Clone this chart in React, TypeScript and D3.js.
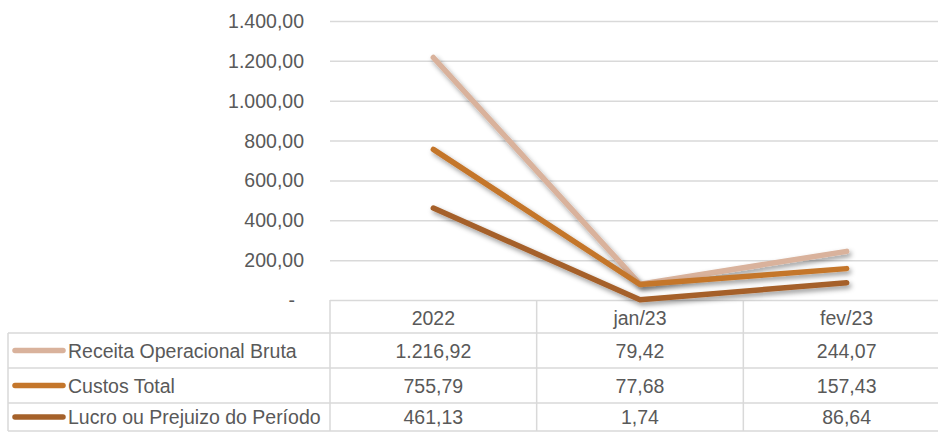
import React, { useEffect, useRef } from 'react';
import * as d3 from 'd3';

const categories = ['2022', 'jan/23', 'fev/23'];
const seriesNames = ['Receita Operacional Bruta', 'Custos Total', 'Lucro ou Prejuizo do Período'];
const receita = [1216.92, 79.42, 244.07];
const custos = [755.79, 77.68, 157.43];
const lucro = [461.13, 1.74, 86.64];
const seriesColors = ['#D9B29C', '#C4762B', '#A5612A'];
const yTicks = [0, 200, 400, 600, 800, 1000, 1200, 1400];

const fmt = (v: number) => {
	if (v === 0) return '-';
	const [i, d] = v.toFixed(2).split('.');
	return i.replace(/\B(?=(\d{3})+(?!\d))/g, '.') + ',' + d;
};

const App: React.FC = () => {
	const svgRef = useRef<SVGSVGElement | null>(null);

	useEffect(() => {
		if (svgRef.current == null) return;
		const width = 938;
		const height = 432;
		// the plot runs a little past the right edge, as in the original
		const plot = { left: 330, right: 950, top: 21, bottom: 300 };
		const tableLeft = 8;
		const rowLines = [333, 368, 403, 431];
		const font = 'Liberation Sans, Arial, sans-serif';
		const fontSize = 19.5;
		const grid = '#D9D9D9';
		const textColor = '#595959';
		const series = [receita, custos, lucro];

		const x = d3.scaleBand().domain(categories).range([plot.left, plot.right]);
		const y = d3.scaleLinear().domain([0, 1400]).range([plot.bottom, plot.top]);

		const svg = d3.select(svgRef.current);
		svg.selectAll('*').remove();
		svg.attr('width', width).attr('height', height);

		const defs = svg.append('defs');
		const f = defs.append('filter').attr('id', 'shadow')
			.attr('x', '-20%').attr('y', '-20%').attr('width', '140%').attr('height', '140%');
		f.append('feDropShadow').attr('dx', 2).attr('dy', 3).attr('stdDeviation', 2.5)
			.attr('flood-color', '#000').attr('flood-opacity', 0.4);

		// gridlines
		svg.append('g').selectAll('line').data(yTicks).join('line')
			.attr('x1', plot.left).attr('x2', plot.right)
			.attr('y1', d => y(d) + 0.5).attr('y2', d => y(d) + 0.5)
			.attr('stroke', grid).attr('stroke-width', 1.5);

		// y labels
		svg.append('g').selectAll('text').data(yTicks).join('text')
			.attr('x', d => d === 0 ? 295 : 304).attr('y', d => y(d) + 7)
			.attr('text-anchor', 'end')
			.attr('font-family', font).attr('font-size', fontSize).attr('fill', textColor)
			.text(d => fmt(d));

		// table lines
		const tg = svg.append('g').attr('stroke', grid).attr('stroke-width', 1.5);
		const colEdges = [plot.left, ...categories.map(c => (x(c) as number) + x.bandwidth())];
		colEdges.forEach(cx => {
			tg.append('line').attr('x1', cx).attr('x2', cx)
				.attr('y1', plot.bottom).attr('y2', rowLines[rowLines.length - 1]);
		});
		tg.append('line').attr('x1', tableLeft).attr('x2', tableLeft)
			.attr('y1', rowLines[0]).attr('y2', rowLines[rowLines.length - 1]);
		rowLines.forEach(ry => {
			tg.append('line').attr('x1', tableLeft).attr('x2', plot.right)
				.attr('y1', ry).attr('y2', ry);
		});

		// header labels
		svg.append('g').selectAll('text').data(categories).join('text')
			.attr('x', d => (x(d) as number) + x.bandwidth() / 2)
			.attr('y', 325)
			.attr('text-anchor', 'middle')
			.attr('font-family', font).attr('font-size', fontSize).attr('fill', textColor)
			.text(d => d);

		// table rows
		series.forEach((vals, si) => {
			const top = rowLines[si];
			const mid = (top + rowLines[si + 1]) / 2;
			svg.append('line').attr('x1', 15).attr('x2', 63)
				.attr('y1', mid).attr('y2', mid)
				.attr('stroke', seriesColors[si]).attr('stroke-width', 5.5)
				.attr('stroke-linecap', 'round');
			svg.append('text').attr('x', 68).attr('y', mid + 7)
				.attr('font-family', font).attr('font-size', fontSize).attr('fill', textColor)
				.text(seriesNames[si]);
			categories.forEach((c, ci) => {
				svg.append('text')
					.attr('x', (x(c) as number) + x.bandwidth() / 2)
					.attr('y', mid + 7)
					.attr('text-anchor', 'middle')
					.attr('font-family', font).attr('font-size', fontSize).attr('fill', textColor)
					.text(fmt(vals[ci]));
			});
		});

		// lines
		const line = d3.line<number>()
			.x((_, i) => (x(categories[i]) as number) + x.bandwidth() / 2)
			.y(d => y(d));

		series.forEach((vals, si) => {
			svg.append('path')
				.datum(vals)
				.attr('fill', 'none')
				.attr('stroke', seriesColors[si])
				.attr('stroke-width', 5.5)
				.attr('stroke-linecap', 'round')
				.attr('stroke-linejoin', 'round')
				.attr('filter', 'url(#shadow)')
				.attr('d', line);
		});
	}, []);

	return (
		<svg ref={svgRef} style={{ position: 'absolute', left: 0, top: 0 }}></svg>
	);
};

export default App;
